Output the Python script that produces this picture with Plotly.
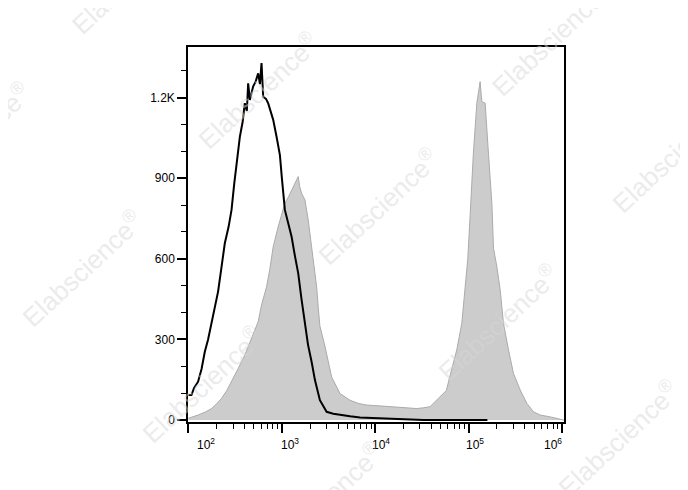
import plotly.graph_objects as go

# ---- data (log10 fluorescence intensity, event count) ----
stained_log = [2.0, 2.05, 2.103, 2.18, 2.247, 2.30, 2.354, 2.41, 2.461, 2.532, 2.603, 2.675,
               2.746, 2.782, 2.818, 2.836, 2.87, 2.907, 2.96, 3.0, 3.032, 3.07, 3.104, 3.14,
               3.175, 3.19, 3.211, 3.247, 3.282, 3.318, 3.372, 3.389, 3.407, 3.461, 3.533,
               3.622, 3.729, 3.82, 3.908, 4.0, 4.086, 4.18, 4.265, 4.35, 4.444, 4.52, 4.586,
               4.693, 4.76, 4.80, 4.872, 4.926, 4.962, 4.99, 5.015, 5.050, 5.087, 5.11, 5.122,
               5.140, 5.16, 5.176, 5.211, 5.248, 5.265, 5.301, 5.337, 5.372, 5.426, 5.479,
               5.551, 5.623, 5.693, 5.765, 5.872, 5.98, 6.02]
stained_cnt = [7, 12, 19, 30, 43, 60, 81, 110, 143, 192, 242, 304,
               366, 428, 478, 496, 560, 645, 719, 770, 807, 830, 856, 880,
               906, 870, 844, 819, 744, 645, 496, 420, 350, 275, 160,
               99, 74, 62, 56, 54, 52, 50, 47, 45, 43, 46, 50,
               87, 110, 165, 261, 360, 484, 600, 760, 993, 1179, 1230, 1259,
               1185, 1182, 1179, 993, 807, 640, 571, 484, 360, 261, 174,
               112, 62, 31, 19, 12, 2, 0]

isotype_log = [2.0, 2.032, 2.06, 2.103, 2.14, 2.175, 2.21, 2.247, 2.28, 2.317, 2.35, 2.389,
               2.43, 2.461, 2.49, 2.514, 2.55, 2.58, 2.603, 2.625, 2.639, 2.657, 2.675,
               2.692, 2.72, 2.746, 2.765, 2.782, 2.80, 2.83, 2.853, 2.88, 2.907, 2.943,
               2.979, 3.0, 3.032, 3.07, 3.104, 3.14, 3.175, 3.21, 3.247, 3.28, 3.318,
               3.354, 3.407, 3.479, 3.55, 3.622, 3.73, 3.836, 3.96, 4.086, 4.23, 4.372,
               4.514, 4.7, 4.9, 5.05, 5.2]
isotype_cnt = [93, 93, 120, 143, 190, 254, 300, 366, 420, 478, 560, 658,
               720, 782, 880, 955, 1054, 1110, 1179, 1150, 1253, 1191, 1220,
               1241, 1260, 1290, 1250, 1328, 1203, 1195, 1179, 1150, 1117, 1054,
               986, 900, 782, 730, 682, 610, 546, 450, 354, 280, 217,
               149, 74, 31, 24, 19, 14, 10, 8, 6, 4, 3,
               0, 0, 0, 0, 0]

y_tick_vals = [0, 300, 600, 900, 1200]
y_tick_text = ["0", "300", "600", "900", "1.2K"]
x_tick_exp = [2, 3, 4, 5, 6]

# page has an 8px body margin; plot area should span x 188..564, y 47..422 in the window
OFF = 8
PL, PR, PT, PB = 188, 564, 47, 422

fig = go.Figure()
fig.add_trace(go.Scatter(
    x=[10 ** v for v in stained_log], y=stained_cnt, mode="lines",
    line=dict(color="#ababab", width=1), fill="tozeroy", fillcolor="#cccccc",
    hoverinfo="skip", showlegend=False))
fig.add_trace(go.Scatter(
    x=[10 ** v for v in isotype_log], y=isotype_cnt, mode="lines",
    line=dict(color="black", width=2), hoverinfo="skip", showlegend=False))

font = dict(family="Liberation Sans, Arial, sans-serif", size=12, color="black")

fig.update_layout(
    width=688 - OFF, height=490 - OFF,
    margin=dict(l=PL - OFF, r=688 - PR, t=PT - OFF, b=490 - PB),
    paper_bgcolor="white", plot_bgcolor="white",
    font=font,
)
fig.update_xaxes(
    type="log", range=[1.995, 6.02], showgrid=False, zeroline=False,
    showline=True, linecolor="black", linewidth=1.5, mirror=True,
    ticks="outside", ticklen=9, tickwidth=1.5, tickcolor="black",
    tickvals=[10 ** e for e in x_tick_exp], showticklabels=False,
    minor=dict(ticks="outside", ticklen=5, tickwidth=1, tickcolor="black", dtick="D1"),
)
fig.update_yaxes(
    range=[-7, 1388], showgrid=False, zeroline=False,
    showline=True, linecolor="black", linewidth=1.5, mirror=True,
    ticks="outside", ticklen=9, tickwidth=1.5, tickcolor="black",
    tickvals=y_tick_vals, ticktext=y_tick_text, tickfont=font,
    minor=dict(ticks="outside", ticklen=5, tickwidth=1, tickcolor="black", dtick=100),
)

# x tick labels
x_shifts = [18, 8, 6, 6, -9]
for e, s in zip(x_tick_exp, x_shifts):
    fig.add_annotation(x=e, xref="x", y=0, yref="paper", yanchor="top", yshift=-12,
                       xshift=s, text=f"10<sup>{e}</sup>", showarrow=False, font=font)

# watermarks (centres in window pixels)
wm_centers = [(258, 90), (378, 206), (498, 322), (618, 438), (82, 268), (202, 384),
              (322, 500), (552, 38), (672, 154), (132, -24), (-30, 140)]
for cx, cy in wm_centers:
    fig.add_annotation(x=(cx - PL) / (PR - PL), y=(PB - cy) / (PB - PT),
                       xref="paper", yref="paper", xanchor="center", yanchor="middle",
                       text="Elabscience<sup>®</sup>", showarrow=False, textangle=-43,
                       font=dict(family="Liberation Sans, Arial, sans-serif", size=26,
                                 color="rgba(215,215,215,0.5)"))

fig.write_html("out.html")
